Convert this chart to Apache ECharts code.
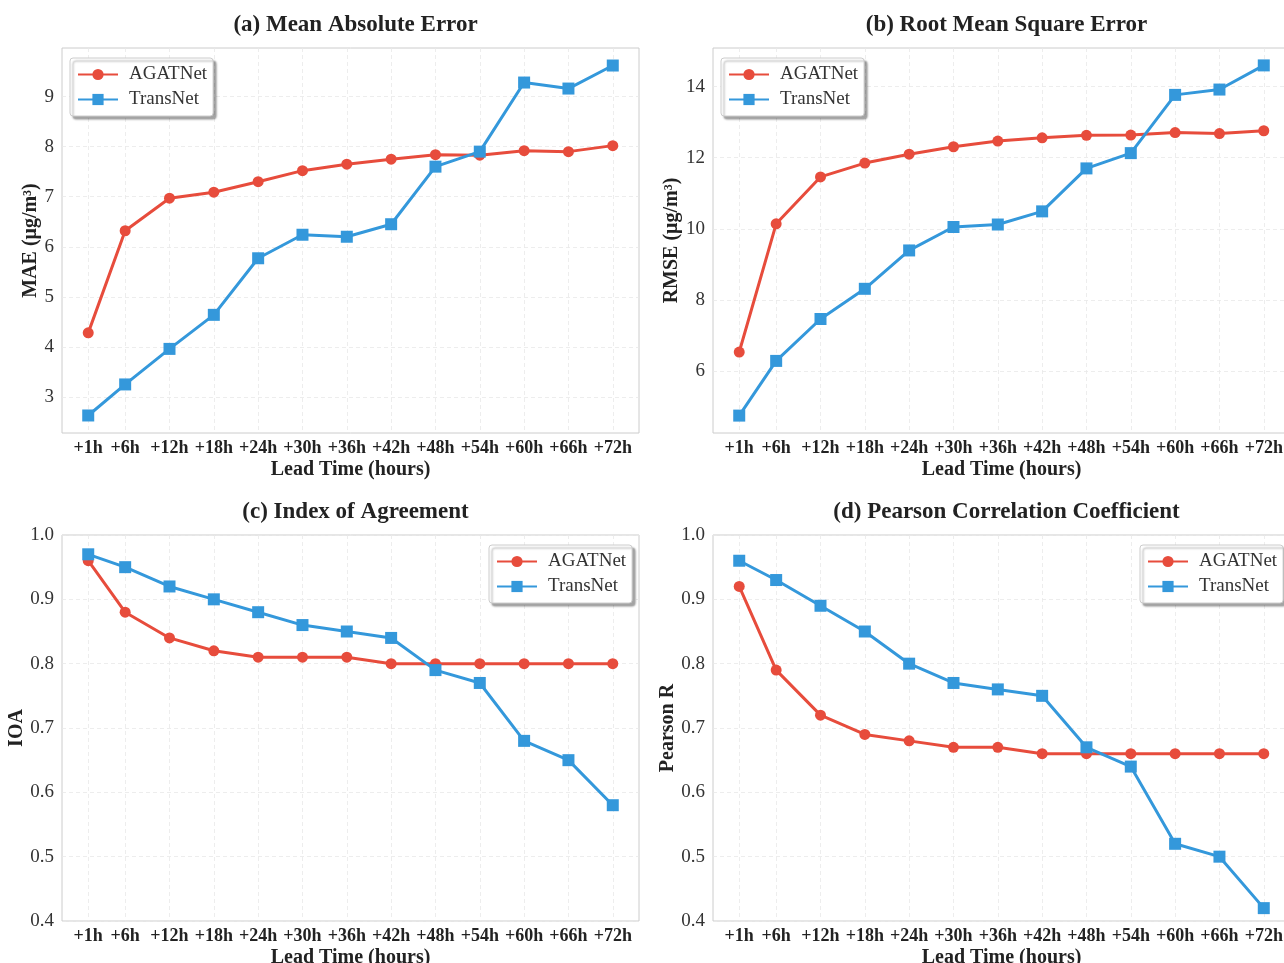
<!DOCTYPE html>
<html>
<head>
<meta charset="utf-8">
<script src="https://cdn.jsdelivr.net/npm/echarts@6/dist/echarts.min.js"></script>
<style>
  html, body { margin: 0; padding: 0; background: #fff; }
  #chart { width: 1284px; height: 963px; }
</style>
</head>
<body>
<div id="chart"></div>
<script>
// lead times (hours) and their tick labels
const leadHours = [1, 6, 12, 18, 24, 30, 36, 42, 48, 54, 60, 66, 72];
const leadLabels = ["+1h", "+6h", "+12h", "+18h", "+24h", "+30h", "+36h", "+42h", "+48h", "+54h", "+60h", "+66h", "+72h"];

// (a) MAE
const maeAgat = [4.28, 6.32, 6.97, 7.09, 7.30, 7.52, 7.65, 7.75, 7.84, 7.83, 7.92, 7.90, 8.02];
const maeTrans = [2.63, 3.25, 3.96, 4.64, 5.77, 6.24, 6.20, 6.45, 7.60, 7.90, 9.28, 9.16, 9.62];
const maeTicks = [3, 4, 5, 6, 7, 8, 9];

// (b) RMSE
const rmseAgat = [6.53, 10.14, 11.46, 11.85, 12.10, 12.31, 12.47, 12.56, 12.63, 12.64, 12.71, 12.68, 12.76];
const rmseTrans = [4.74, 6.28, 7.46, 8.31, 9.39, 10.05, 10.12, 10.49, 11.70, 12.13, 13.77, 13.92, 14.60];
const rmseTicks = [6, 8, 10, 12, 14];

// (c) IOA
const ioaAgat = [0.96, 0.88, 0.84, 0.82, 0.81, 0.81, 0.81, 0.80, 0.80, 0.80, 0.80, 0.80, 0.80];
const ioaTrans = [0.97, 0.95, 0.92, 0.90, 0.88, 0.86, 0.85, 0.84, 0.79, 0.77, 0.68, 0.65, 0.58];

// (d) Pearson R
const rAgat = [0.92, 0.79, 0.72, 0.69, 0.68, 0.67, 0.67, 0.66, 0.66, 0.66, 0.66, 0.66, 0.66];
const rTrans = [0.96, 0.93, 0.89, 0.85, 0.80, 0.77, 0.76, 0.75, 0.67, 0.64, 0.52, 0.50, 0.42];
const corrTicks = [0.4, 0.5, 0.6, 0.7, 0.8, 0.9, 1.0];

const RED = "#e74c3c";
const BLUE = "#3498db";
const FONT = "Liberation Serif";

const panels = [
  { title: "(a) Mean Absolute Error", yName: "MAE (μg/m³)", agat: maeAgat, trans: maeTrans,
    ticks: maeTicks, yMin: 2.28, yMax: 9.97, fmt: (v) => String(v),
    grid: { left: 62, top: 48, width: 577, height: 385 }, nameGap: 17, legend: { left: 70, top: 58 } },
  { title: "(b) Root Mean Square Error", yName: "RMSE (μg/m³)", agat: rmseAgat, trans: rmseTrans,
    ticks: rmseTicks, yMin: 4.25, yMax: 15.09, fmt: (v) => String(v),
    grid: { left: 713, top: 48, width: 577, height: 385 }, nameGap: 25, legend: { left: 721, top: 58 } },
  { title: "(c) Index of Agreement", yName: "IOA", agat: ioaAgat, trans: ioaTrans,
    ticks: corrTicks, yMin: 0.4, yMax: 1.0, fmt: (v) => v.toFixed(1),
    grid: { left: 62, top: 535, width: 577, height: 386 }, nameGap: 30, legend: { left: 489, top: 545 } },
  { title: "(d) Pearson Correlation Coefficient", yName: "Pearson R", agat: rAgat, trans: rTrans,
    ticks: corrTicks, yMin: 0.4, yMax: 1.0, fmt: (v) => v.toFixed(1),
    grid: { left: 713, top: 535, width: 577, height: 386 }, nameGap: 27, legend: { left: 1140, top: 545 } },
];

const xMin = -2.55, xMax = 75.55;
const gridLine = { show: true, lineStyle: { color: "#e8e8e8", type: [4, 3], width: 0.8 } };

const chart = echarts.init(document.getElementById("chart"));

const option = {
  backgroundColor: "#fff",
  animation: false,
  title: [], grid: [], xAxis: [], yAxis: [], legend: [], series: [],
};

panels.forEach((p, i) => {
  option.title.push({
    text: p.title,
    left: p.grid.left + p.grid.width / 2,
    top: p.grid.top - 39,
    textAlign: "center",
    textStyle: { fontFamily: FONT, fontSize: 23, fontWeight: "bold", color: "#222" },
  });
  option.grid.push(Object.assign({
    show: true, borderColor: "#cccccc", borderWidth: 1, backgroundColor: "#fff",
    outerBoundsMode: "none", containLabel: false,
  }, p.grid));
  option.xAxis.push({
    type: "value", gridIndex: i, min: xMin, max: xMax,
    name: "Lead Time (hours)", nameLocation: "middle", nameGap: 27,
    nameTextStyle: { fontFamily: FONT, fontSize: 20, fontWeight: "bold", color: "#222" },
    axisLine: { show: false },
    axisTick: { show: false, customValues: leadHours },
    axisLabel: {
      customValues: leadHours, margin: 6,
      formatter: (v) => leadLabels[leadHours.indexOf(v)] || "",
      fontFamily: FONT, fontSize: 18, fontWeight: "bold", color: "#222",
    },
    splitLine: gridLine,
  });
  option.yAxis.push({
    type: "value", gridIndex: i, min: p.yMin, max: p.yMax,
    name: p.yName, nameLocation: "middle", nameGap: p.nameGap,
    nameTextStyle: { fontFamily: FONT, fontSize: 20, fontWeight: "bold", color: "#222" },
    axisLine: { show: false },
    axisTick: { show: false, customValues: p.ticks },
    axisLabel: {
      customValues: p.ticks, margin: 8, formatter: p.fmt,
      fontFamily: FONT, fontSize: 19, color: "#333",
    },
    splitLine: gridLine,
  });
  option.legend.push({
    left: p.legend.left, top: p.legend.top, orient: "vertical",
    data: ["AGATNet", "TransNet"],
    itemWidth: 40, itemHeight: 14, itemGap: 6,
    padding: [7, 6, 7, 7],
    backgroundColor: "#fff", borderColor: "#cccccc", borderWidth: 1, borderRadius: 3,
    shadowColor: "rgba(0,0,0,0.35)", shadowBlur: 2, shadowOffsetX: 3, shadowOffsetY: 3,
    textStyle: { fontFamily: FONT, fontSize: 19, color: "#333", padding: [0, 0, 0, 6] },
  });
  option.series.push({
    name: "AGATNet", type: "line", xAxisIndex: i, yAxisIndex: i,
    data: leadHours.map((h, k) => [h, p.agat[k]]),
    symbol: "circle", symbolSize: 11,
    lineStyle: { color: RED, width: 3 }, itemStyle: { color: RED },
    z: 3,
  });
  option.series.push({
    name: "TransNet", type: "line", xAxisIndex: i, yAxisIndex: i,
    data: leadHours.map((h, k) => [h, p.trans[k]]),
    symbol: "rect", symbolSize: 12,
    lineStyle: { color: BLUE, width: 3 }, itemStyle: { color: BLUE },
    z: 4,
  });
});

chart.setOption(option);
</script>
</body>
</html>
